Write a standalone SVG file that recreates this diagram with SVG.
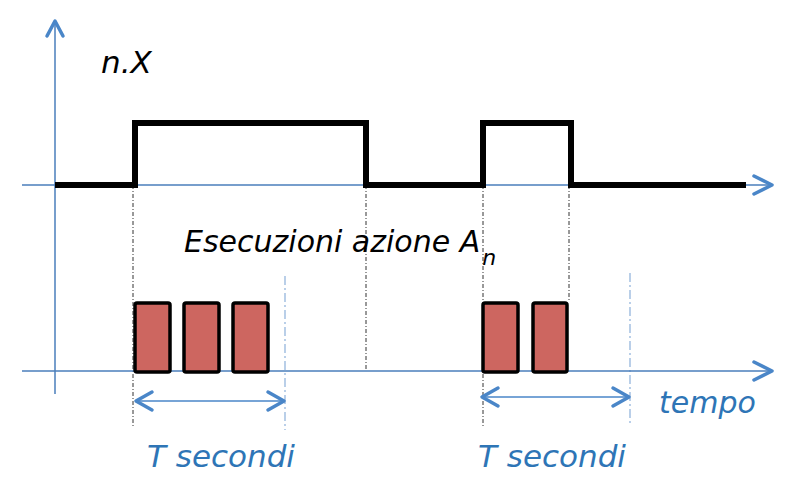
<svg xmlns="http://www.w3.org/2000/svg" width="800" height="498" viewBox="0 0 800 498">
<style>
.axis{stroke:#4A7EBB;stroke-width:1.5;fill:none}
.head{stroke:#4A86C8;stroke-width:3.5;fill:none;stroke-linecap:round;stroke-linejoin:round}
.sig{stroke:#000;stroke-width:6;fill:none;stroke-linejoin:miter}
.dk{stroke:#333;stroke-width:1;stroke-dasharray:4 2 1 2;fill:none}
.bl{stroke:#8CB0DA;stroke-width:1.2;stroke-dasharray:9 3 2 3;fill:none}
.box{fill:#CD6660;stroke:#000;stroke-width:3.5}
.dim{stroke:#4A86C8;stroke-width:1.5;fill:none}
.t{font-family:"DejaVu Sans",Verdana,sans-serif;font-style:italic}
.blk{fill:#000}
.blu{fill:#2E75B6}
</style>
<g id="connectors">
<line class="dk" x1="133" y1="185" x2="133" y2="428"/>
<line class="dk" x1="366" y1="185" x2="366" y2="369"/>
<line class="dk" x1="483" y1="185" x2="483" y2="426"/>
<line class="dk" x1="569" y1="185" x2="569" y2="302"/>
<line class="bl" x1="285" y1="276" x2="285" y2="430"/>
<line class="bl" x1="630" y1="273" x2="630" y2="426"/>
</g>
<g id="axes">
<line class="axis" x1="55" y1="22" x2="55" y2="394"/>
<polyline class="head" points="47,36 55,21 63,36"/>
<line class="axis" x1="22" y1="185" x2="770" y2="185"/>
<polyline class="head" points="754,176 772,185 754,194"/>
<line class="axis" x1="22" y1="371" x2="770" y2="371"/>
<polyline class="head" points="754,362 772,371 754,380"/>
</g>
<g id="signal">
<polyline class="sig" points="55,185 135,185 135,123 366,123 366,185 483,185 483,123 571,123 571,185 746,185"/>
</g>
<g id="executions">
<rect class="box" x="135" y="303" width="35" height="69" rx="2"/>
<rect class="box" x="184" y="303" width="35" height="69" rx="2"/>
<rect class="box" x="233" y="303" width="35" height="69" rx="2"/>
<rect class="box" x="483" y="303" width="35" height="69" rx="2"/>
<rect class="box" x="533" y="303" width="34" height="69" rx="2"/>
</g>
<g id="interval1">
<line class="dim" x1="136" y1="401" x2="284" y2="401"/>
<polyline class="head" points="152,392 136,401 152,410"/>
<polyline class="head" points="268,392 284,401 268,410"/>
</g>
<g id="interval2">
<line class="dim" x1="482" y1="397" x2="629" y2="397"/>
<polyline class="head" points="498,388 482,397 498,406"/>
<polyline class="head" points="613,388 629,397 613,406"/>
</g>
<g id="labels">
<text class="t blk" x="101" y="73" font-size="31">n.X</text>
<text class="t blk" x="184" y="252" font-size="30">Esecuzioni azione A<tspan font-size="22" dx="2" dy="13">n</tspan></text>
<text class="t blu" x="147" y="467" font-size="31">T secondi</text>
<text class="t blu" x="478" y="467" font-size="31">T secondi</text>
<text class="t blu" x="659" y="413" font-size="30">tempo</text>
</g>
</svg>
